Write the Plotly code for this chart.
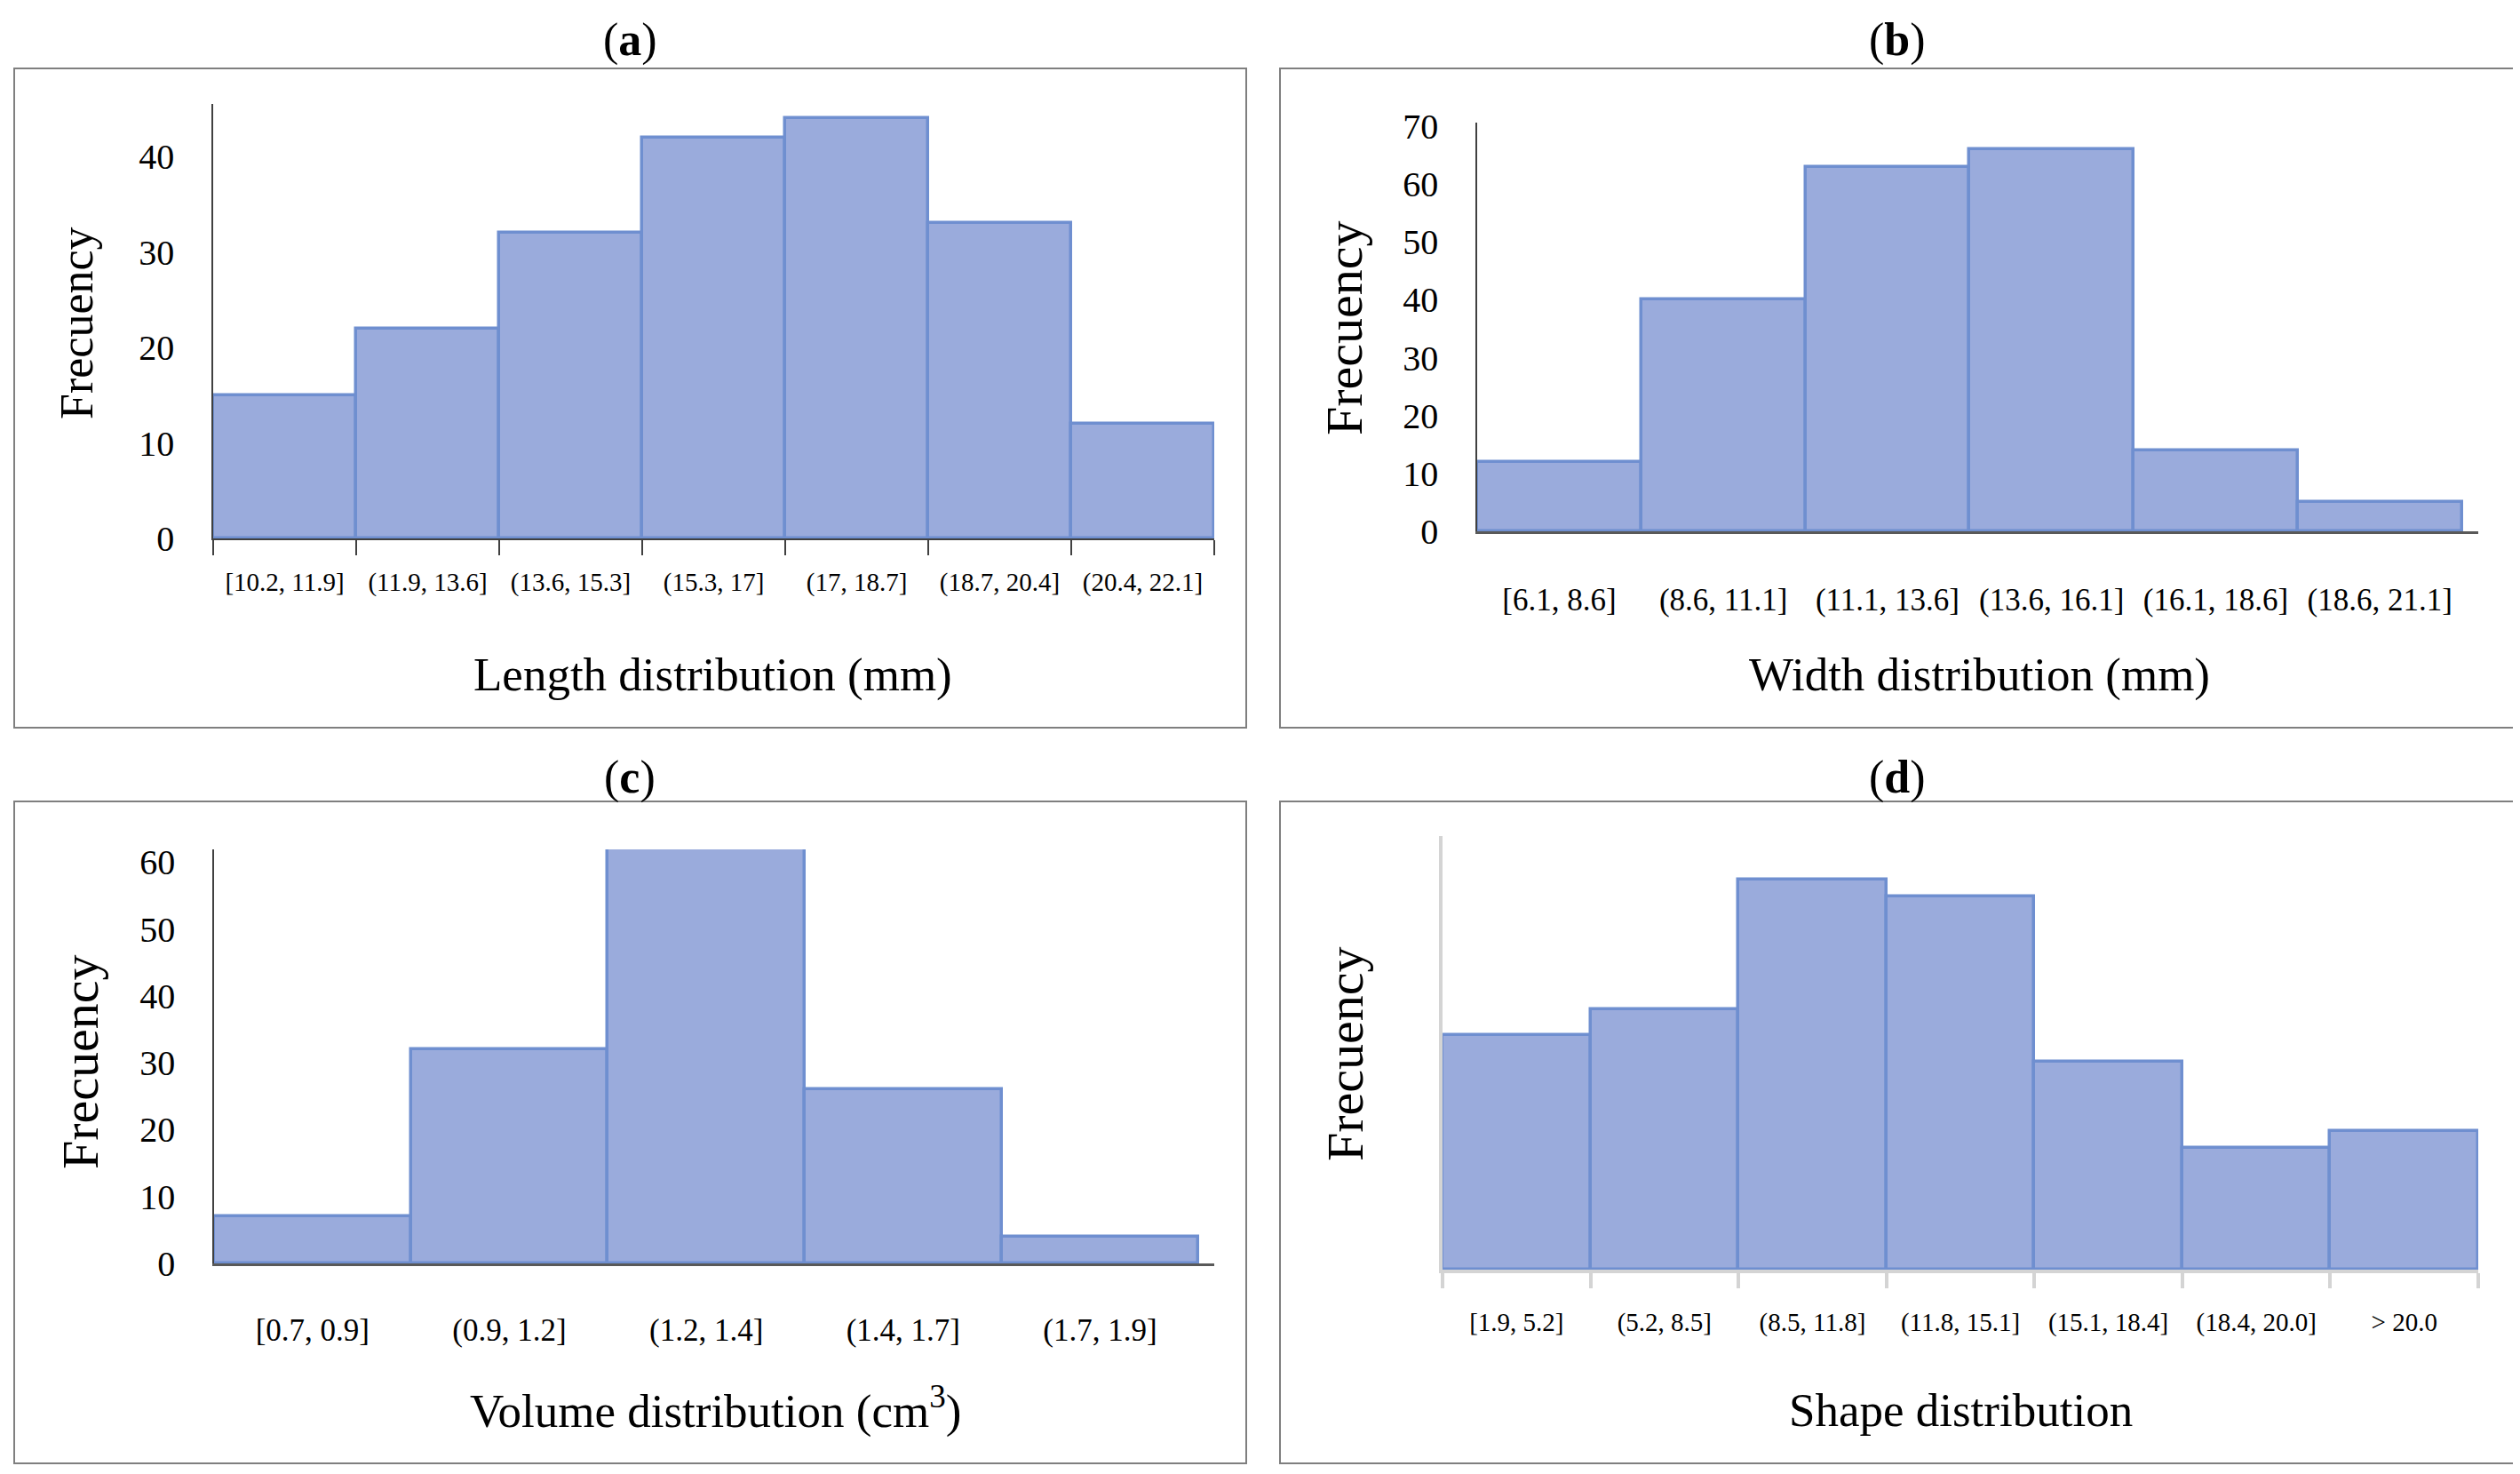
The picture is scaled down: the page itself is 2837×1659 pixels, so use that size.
"""Four-panel histogram figure: length, width, volume and shape distributions."""
import plotly.graph_objects as go

FONT = 'Liberation Serif'
BAR_FILL = '#9aabdc'
BAR_EDGE = '#6f8fd0'
W, H = 2837, 1659
PAGE_OFFSET = 8   # default body margin of the html page

length_bins = ['[10.2, 11.9]', '(11.9, 13.6]', '(13.6, 15.3]', '(15.3, 17]',
               '(17, 18.7]', '(18.7, 20.4]', '(20.4, 22.1]']
length_freq = [15, 22, 32, 42, 44, 33, 12]

width_bins = ['[6.1, 8.6]', '(8.6, 11.1]', '(11.1, 13.6]', '(13.6, 16.1]',
              '(16.1, 18.6]', '(18.6, 21.1]']
width_freq = [12, 40, 63, 66, 14, 5]

volume_bins = ['[0.7, 0.9]', '(0.9, 1.2]', '(1.2, 1.4]', '(1.4, 1.7]', '(1.7, 1.9]']
volume_freq = [7, 32, 131, 26, 4]   # middle bin runs off the top of the axis

shape_bins = ['[1.9, 5.2]', '(5.2, 8.5]', '(8.5, 11.8]', '(11.8, 15.1]',
              '(15.1, 18.4]', '(18.4, 20.0]', '> 20.0']
shape_freq = [27, 30, 45, 43, 24, 14, 16]

# panel geometry in page pixels (plot box, frame, label / title centres)
PANELS = [
    dict(tag='a', bins=length_bins, freq=length_freq,
         xtitle='Length distribution (mm)',
         plot=(240, 117, 1367, 606), yrange=[0, 45.5], xpad=0.0,
         ticks=True, tickfont=29, xstand=22, showy=True,
         axis='#404040', xline=1.5,
         frame=(16, 77, 1403, 819), label=(709, 45),
         xt=(802, 759), yt=(87, 364), ytsize=52),
    dict(tag='b', bins=width_bins, freq=width_freq,
         xtitle='Width distribution (mm)',
         plot=(1663, 138, 2790, 598), yrange=[0, 70.6], xpad=0.1,
         ticks=False, tickfont=35, xstand=44, showy=True,
         axis='#595959', xline=2.5,
         frame=(1441, 77, 2830, 819), label=(2136, 45),
         xt=(2228, 759), yt=(1514, 369), ytsize=58),
    dict(tag='c', bins=volume_bins, freq=volume_freq,
         xtitle='Volume distribution (cm<sup>3</sup>)',
         plot=(241, 956, 1367, 1422), yrange=[0, 61.9], xpad=0.08,
         ticks=False, tickfont=35, xstand=42, showy=True,
         axis='#595959', xline=2.5,
         frame=(16, 902, 1403, 1647), label=(709, 875),
         xt=(805, 1584), yt=(90, 1195), ytsize=58),
    dict(tag='d', bins=shape_bins, freq=shape_freq,
         xtitle='Shape distribution',
         plot=(1624, 941, 2790, 1429), yrange=[0, 50], xpad=0.0,
         ticks=True, tickfont=29, xstand=30, showy=False,
         axis='#d4d4d4', xline=4,
         frame=(1441, 902, 2830, 1647), label=(2136, 875),
         xt=(2207, 1587), yt=(1514, 1186), ytsize=58),
]


def fx(px):
    return (px - PAGE_OFFSET) / W


def fy(py):
    return 1 - (py - PAGE_OFFSET) / H


def text_note(text, pos, size, angle=0):
    return dict(text=text, x=fx(pos[0]), y=fy(pos[1]), xref='paper', yref='paper',
                xanchor='center', yanchor='middle', textangle=angle, showarrow=False,
                font=dict(family=FONT, size=size, color='black'))


def build_figure():
    fig = go.Figure()
    layout = {}
    annotations = []
    shapes = []

    for i, p in enumerate(PANELS, start=1):
        sfx = '' if i == 1 else str(i)
        fig.add_trace(go.Bar(
            x=p['bins'], y=p['freq'], width=1,
            marker=dict(color=BAR_FILL, line=dict(color=BAR_EDGE, width=3.5)),
            xaxis='x' + sfx, yaxis='y' + sfx, showlegend=False,
        ))
        n = len(p['bins'])
        x0, y0, x1, y1 = p['plot']
        layout['xaxis' + sfx] = dict(
            domain=[fx(x0), fx(x1)], anchor='y' + sfx, type='category',
            range=[-0.5, n - 0.5 + p['xpad']], automargin=False,
            showline=True, linecolor=p['axis'], linewidth=p['xline'],
            ticks='outside' if p['ticks'] else '', tickson='boundaries',
            ticklen=17, tickwidth=p['xline'], tickcolor=p['axis'],
            tickfont=dict(family=FONT, size=p['tickfont'], color='black'),
            ticklabelstandoff=p['xstand'], showgrid=False, zeroline=False,
            tickangle=0, fixedrange=True,
        )
        layout['yaxis' + sfx] = dict(
            domain=[fy(y1), fy(y0)], anchor='x' + sfx, range=p['yrange'],
            automargin=False,
            showline=True, linecolor='#404040' if p['showy'] else p['axis'],
            linewidth=1.5 if p['showy'] else 4,
            showticklabels=p['showy'], dtick=10, ticks='',
            tickfont=dict(family=FONT, size=40, color='black'),
            ticklabelstandoff=34, showgrid=False, zeroline=False, fixedrange=True,
        )

        fx0, fy0, fx1, fy1 = p['frame']
        shapes.append(dict(type='rect', xref='paper', yref='paper',
                           x0=fx(fx0), y0=fy(fy1), x1=fx(fx1), y1=fy(fy0),
                           line=dict(color='#7f7f7f', width=2)))
        annotations.append(text_note('(<b>%s</b>)' % p['tag'], p['label'], 52))
        annotations.append(text_note(p['xtitle'], p['xt'], 53))
        annotations.append(text_note('Frecuency', p['yt'], p['ytsize'], angle=-90))

    fig.update_layout(
        **layout,
        width=W, height=H,
        margin=dict(l=0, r=0, t=0, b=0, autoexpand=False),
        paper_bgcolor='white', plot_bgcolor='white',
        bargap=0, annotations=annotations, shapes=shapes,
    )
    return fig


if __name__ == '__main__':
    fig = build_figure()
    fig.write_html('out.html')
    print('written out.html')
